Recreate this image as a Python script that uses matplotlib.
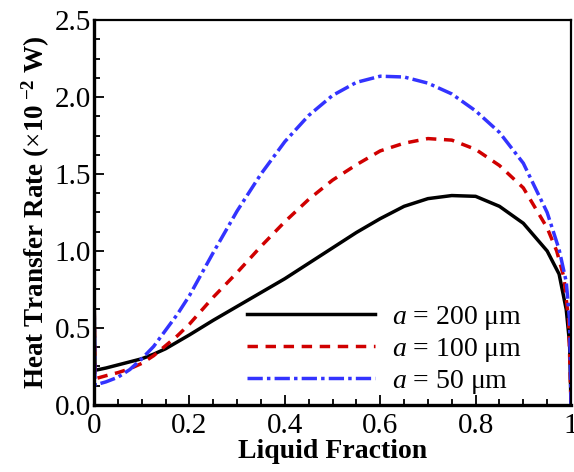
import matplotlib
matplotlib.use("Agg")
import matplotlib.pyplot as plt
from matplotlib.ticker import MultipleLocator, FixedFormatter, FixedLocator

plt.rcParams['font.family'] = ['Liberation Serif', 'DejaVu Serif']
plt.rcParams['mathtext.fontset'] = 'custom'
plt.rcParams['mathtext.rm'] = 'Liberation Serif'
plt.rcParams['mathtext.it'] = 'Liberation Serif:italic'
plt.rcParams['mathtext.bf'] = 'Liberation Serif:bold'
plt.rcParams['lines.scale_dashes'] = False

# liquid fraction vs heat transfer rate (x1e-2 W)
# (the first two points are the short spike drawn at x = 0)
x_200 = [0, 0, 0.002, 0.025, 0.05, 0.075, 0.1, 0.125, 0.15, 0.175, 0.2, 0.25, 0.3, 0.35,
         0.4, 0.45, 0.5, 0.55, 0.6, 0.65, 0.7, 0.75, 0.8, 0.85, 0.9, 0.95, 0.975,
         0.99, 0.997, 1.0]
q_200 = [0, 0.80, 0.225, 0.24, 0.26, 0.28, 0.30, 0.33, 0.365, 0.41, 0.455, 0.55, 0.64, 0.73,
         0.82, 0.92, 1.02, 1.12, 1.21, 1.29, 1.34, 1.36, 1.355, 1.29, 1.18, 1.00, 0.85,
         0.62, 0.40, 0]

x_100 = [0, 0, 0.002, 0.025, 0.05, 0.075, 0.1, 0.125, 0.15, 0.175, 0.2, 0.25, 0.3, 0.35,
         0.4, 0.45, 0.5, 0.55, 0.6, 0.65, 0.7, 0.75, 0.8, 0.85, 0.9, 0.95, 0.97,
         0.985, 0.995, 1.0]
q_100 = [0, 0.78, 0.17, 0.19, 0.21, 0.235, 0.27, 0.32, 0.385, 0.45, 0.525, 0.70, 0.86, 1.03,
         1.19, 1.335, 1.46, 1.56, 1.65, 1.70, 1.73, 1.72, 1.66, 1.555, 1.41, 1.15, 1.00,
         0.83, 0.55, 0]

x_50 = [0, 0, 0.002, 0.025, 0.05, 0.075, 0.1, 0.125, 0.15, 0.175, 0.2, 0.25, 0.3, 0.35,
        0.4, 0.45, 0.5, 0.55, 0.6, 0.65, 0.7, 0.75, 0.8, 0.85, 0.9, 0.95, 0.975,
        0.99, 0.997, 1.0]
q_50 = [0, 0.75, 0.13, 0.15, 0.18, 0.23, 0.30, 0.38, 0.485, 0.59, 0.71, 0.99, 1.26, 1.50,
        1.71, 1.88, 2.01, 2.095, 2.135, 2.13, 2.09, 2.02, 1.91, 1.77, 1.57, 1.25, 1.01,
        0.80, 0.55, 0]

labels = [r"$a$ = 200 μm", r"$a$ = 100 μm", r"$a$ = 50 μm"]

fig = plt.figure(figsize=(5.74, 4.72), dpi=100)
ax = fig.add_axes([0.1638, 0.142, 0.831, 0.8156])

ax.plot(x_200, q_200, color='black', lw=2.5, label=labels[0])
ax.plot(x_100, q_100, color='#d00000', lw=2.5, dashes=(7.5, 5.5), label=labels[1])
ax.plot(x_50, q_50, color='#3333ff', lw=2.5, dashes=(11, 3, 2.5, 3), label=labels[2])

ax.set_xlim(0, 1)
ax.set_ylim(0, 2.5)
ax.xaxis.set_major_locator(FixedLocator([0, 0.2, 0.4, 0.6, 0.8, 1.0]))
ax.xaxis.set_major_formatter(FixedFormatter(['0', '0.2', '0.4', '0.6', '0.8', '1']))
ax.xaxis.set_minor_locator(MultipleLocator(0.05))
ax.yaxis.set_major_locator(MultipleLocator(0.5))
ax.yaxis.set_major_formatter(plt.FormatStrFormatter('%.1f'))
ax.yaxis.set_minor_locator(MultipleLocator(0.125))
ax.tick_params(which='both', direction='in', top=False, right=False, labelsize=21, width=1.3)
ax.tick_params(which='major', length=7)
ax.tick_params(axis='x', which='major', pad=6)
ax.tick_params(axis='y', which='major', pad=2)
ax.tick_params(which='minor', length=4)

ax.spines['left'].set_linewidth(2.4)
ax.spines['bottom'].set_linewidth(2.4)
ax.spines['top'].set_linewidth(1.6)
ax.spines['right'].set_linewidth(1.6)

ax.set_xlabel('Liquid Fraction', fontsize=20, fontweight='bold', labelpad=0)
ax.set_ylabel(r'Heat Transfer Rate ($\times$10$^{\ \mathbf{-2}}$ W)', fontsize=19.5,
              fontweight='bold', labelpad=2)

ax.legend(loc='lower left', bbox_to_anchor=(0.275, -0.034), frameon=False, fontsize=20,
          handlelength=4.6, handletextpad=0.6, labelspacing=0.15, borderpad=0.3)

fig.savefig('out.png', dpi=100)
